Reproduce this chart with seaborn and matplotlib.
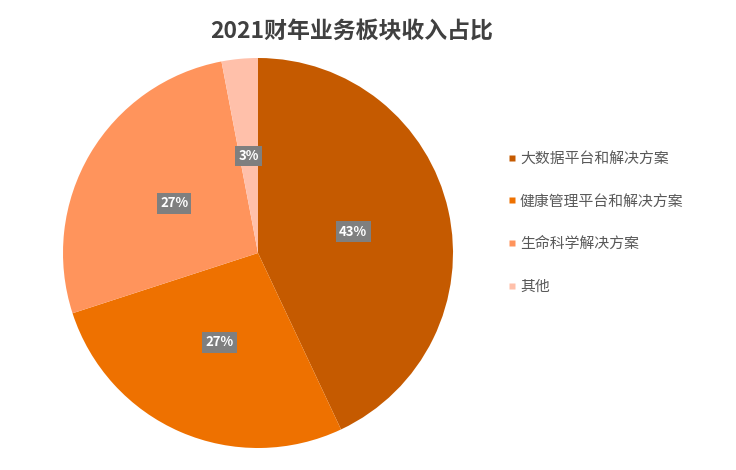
import matplotlib
matplotlib.use("Agg")
import matplotlib.pyplot as plt
from matplotlib.lines import Line2D
import seaborn as sns

categories = ["大数据平台和解决方案", "健康管理平台和解决方案", "生命科学解决方案", "其他"]
values = [43, 27, 27, 3]
colors = ["#C55A00", "#EE7100", "#FF945C", "#FFC0AA"]
title = "2021财年业务板块收入占比"

sns.set_theme(style="white")
plt.rcParams['font.family'] = ['Noto Sans CJK SC', 'DejaVu Sans']

fig = plt.figure(figsize=(7.36, 4.70), dpi=100)
ax = fig.add_axes([63/736, 22/470, 390/736, 390/470])
palette = sns.color_palette(colors)
wedges, texts, autotexts = ax.pie(
    values, colors=palette, startangle=90, counterclock=False,
    autopct=lambda p: f"{p:.0f}%", pctdistance=0.5,
    wedgeprops=dict(linewidth=0),
    textprops=dict(color="white", fontsize=9.5, fontweight="bold"))
for t in autotexts:
    t.set_bbox(dict(boxstyle="square,pad=0.25", facecolor="#7F7F7F", edgecolor="none"))
ax.set_xlim(-1, 1)
ax.set_ylim(-1, 1)
ax.set_aspect("equal")

fig.text(352/736, 1 - 31/470, title, ha="center", va="center",
         fontsize=16.5, fontweight="bold", color="#404040")

handles = [Line2D([0], [0], marker="s", linestyle="none", markersize=5,
                  markerfacecolor=c, markeredgecolor="none") for c in colors]
fig.legend(handles, categories, loc="upper left",
           bbox_to_anchor=(508/736, 1 - 152/470), frameon=False,
           fontsize=10.7, labelcolor="#595959", labelspacing=1.92,
           handlelength=0.5, handletextpad=0.3, borderaxespad=0, borderpad=0)

fig.savefig("out.png", dpi=100)
